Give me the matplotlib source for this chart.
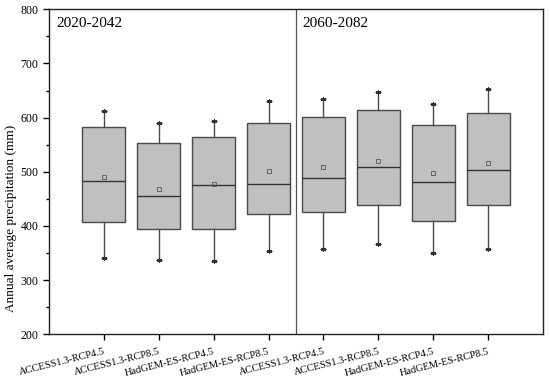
import matplotlib
matplotlib.use("Agg")
import matplotlib.pyplot as plt
from matplotlib.ticker import MultipleLocator

categories = ["ACCESS1.3-RCP4.5", "ACCESS1.3-RCP8.5", "HadGEM-ES-RCP4.5", "HadGEM-ES-RCP8.5",
              "ACCESS1.3-RCP4.5", "ACCESS1.3-RCP8.5", "HadGEM-ES-RCP4.5", "HadGEM-ES-RCP8.5"]
whisker_low = [340, 338, 335, 354, 357, 366, 351, 358]
q1 = [407, 395, 394, 423, 425, 439, 409, 439]
median = [483, 455, 475, 478, 489, 508, 481, 504]
q3 = [583, 553, 565, 590, 601, 615, 586, 609]
whisker_high = [612, 590, 593, 630, 635, 647, 625, 653]
means = [491, 469, 478, 501, 508, 520, 497, 517]
period_labels = ["2020-2042", "2060-2082"]

plt.rcParams['font.family'] = ['Liberation Serif', 'DejaVu Serif']

fig = plt.figure(figsize=(5.5, 3.89), dpi=100)
ax = fig.add_axes([49/550, 1 - 334.3/389, (543-49)/550, (334.3-9.3)/389])

stats = []
for i in range(len(categories)):
    stats.append(dict(med=median[i], q1=q1[i], q3=q3[i], whislo=whisker_low[i],
                      whishi=whisker_high[i], mean=means[i], label=categories[i]))
positions = list(range(1, len(categories) + 1))
edge = '#4a4a4a'
ax.bxp(stats, positions=positions, widths=0.78, patch_artist=True, showmeans=True,
       showcaps=False, showfliers=False,
       boxprops=dict(facecolor='#c0c0c0', edgecolor=edge, linewidth=1.0),
       medianprops=dict(color='#333333', linewidth=1.0),
       whiskerprops=dict(color=edge, linewidth=1.0),
       meanprops=dict(marker='s', markersize=2.5, markerfacecolor='none',
                      markeredgecolor='#555555', markeredgewidth=0.6))
# asterisk whisker ends
for vals in (whisker_high, whisker_low):
    ax.plot(positions, vals, linestyle='none', marker=(6, 2, 0), markersize=3.5,
            color='#333333', markeredgewidth=0.7)
    ax.plot(positions, vals, linestyle='none', marker='_', markersize=4,
            color='#333333', markeredgewidth=0.9)

ax.axvline(4.5, color='#555555', linewidth=0.9)
ax.set_xlim(0, 9)
ax.set_ylim(200, 800)
ax.yaxis.set_major_locator(MultipleLocator(100))
ax.yaxis.set_minor_locator(MultipleLocator(50))
ax.set_xticks(positions)
ax.set_xticklabels(categories, rotation=14, ha='right', rotation_mode='anchor', fontsize=7.5)
ax.tick_params(axis='both', direction='out', length=4, width=1.0, labelsize=8.5)
ax.tick_params(axis='x', labelsize=7.5, pad=5)
ax.tick_params(axis='y', which='minor', direction='out', length=2.5, width=1.0)
ax.tick_params(right=False, top=False)
for s in ax.spines.values():
    s.set_linewidth(1.0)
    s.set_color('#222222')
ax.set_ylabel("Annual average precipitation (mm)", fontsize=9.5)
ax.yaxis.set_label_coords(-0.064, 0.358)

ax.text(0.14, 773, period_labels[0], fontsize=11, va='center', ha='left')
ax.text(4.62, 773, period_labels[1], fontsize=11, va='center', ha='left')

fig.savefig("out.png", dpi=100)
